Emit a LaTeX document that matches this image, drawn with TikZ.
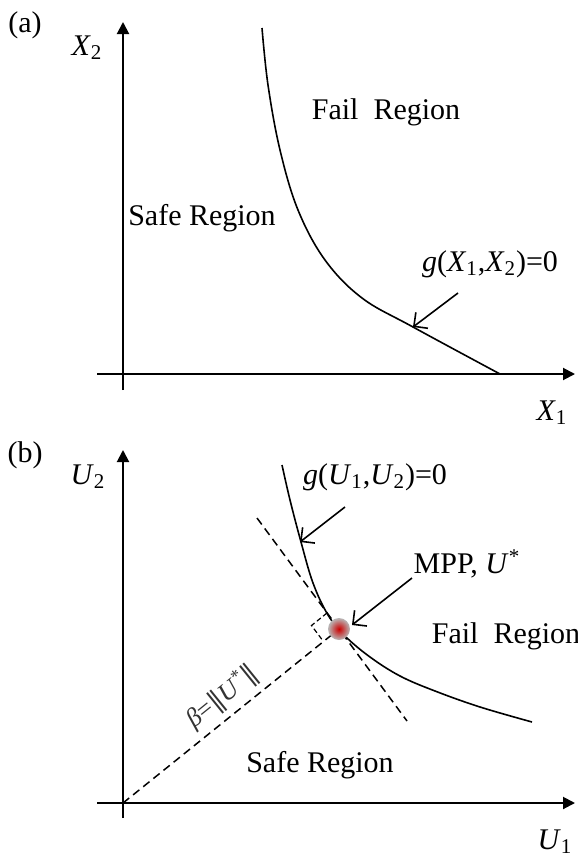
\documentclass[tikz,border=0pt]{standalone}
\usepackage{fontspec}
\setmainfont{Liberation Serif}
\newfontfamily\simbolo{DejaVu Serif}
\usetikzlibrary{arrows.meta}
\tikzset{
  eixo/.style={line width=1pt, -{Triangle[length=6pt,width=6pt]}},
  curva/.style={line width=0.8pt},
  tracejado/.style={line width=0.75pt, dash pattern=on 4pt off 2.5pt},
  seta/.style={line width=0.8pt, -{Straight Barb[length=5pt,width=10pt]}},
  rotulo/.style={font=\fontsize{15}{18}\selectfont, inner sep=0pt},
}
\newcommand{\vi}[1]{\textit{#1}}
\newcommand{\dbar}{{\simbolo ‖}}

\begin{document}
\begin{tikzpicture}[x=0.5pt, y=-0.5pt]
\useasboundingbox (0,0) rectangle (578,857);

% (a) espaco original X
\coordinate (ya0) at (123,390);
\coordinate (ya1) at (123,22);
\coordinate (xa0) at (97,374);
\coordinate (xa1) at (575,374);
\draw[eixo] (ya0) -- (ya1);
\draw[eixo] (xa0) -- (xa1);
\node[rotulo] (lba) at (25,25) {(a)};
\node[rotulo] (x2lab) at (87,48) {\vi{X}\textsubscript{2}};
\node[rotulo] (x1lab) at (552,413) {\vi{X}\textsubscript{1}};
\draw[curva] plot[smooth, tension=0.6] coordinates {(262,28) (268,85) (280,150) (298,210) (325,260) (362,298) (413,327) (500,374)};
\coordinate (ga) at (413,327);
\coordinate (gaseta) at (458,293);
\node[rotulo] (faila) at (386,112) {Fail\ \ Region};
\node[rotulo] (safea) at (202,218) {Safe Region};
\node[rotulo] (gxlab) at (490,264) {\vi{g}(\vi{X}\textsubscript{1},\vi{X}\textsubscript{2})=0};
\draw[seta] (gaseta) -- (ga);

% (b) espaco padrao U
\coordinate (ob) at (123,803);
\coordinate (yb0) at (123,818);
\coordinate (yb1) at (123,450);
\coordinate (xb0) at (97,803);
\coordinate (xb1) at (575,803);
\draw[eixo] (yb0) -- (yb1);
\draw[eixo] (xb0) -- (xb1);
\node[rotulo] (lbb) at (25,455) {(b)};
\node[rotulo] (u2lab) at (88,477) {\vi{U}\textsubscript{2}};
\node[rotulo] (u1lab) at (555,842) {\vi{U}\textsubscript{1}};
\draw[curva] plot[smooth, tension=0.6] coordinates {(282,465) (290,500) (301,542) (313,583) (328,615) (345,636) (370,657) (400,676) (435,691) (480,707) (532,722)};
\coordinate (mpp) at (339,629);
\coordinate (tg0) at (257,518);
\coordinate (tg1) at (407,721);
\draw[tracejado] (tg0) -- (tg1);
\draw[tracejado] (ob) -- (mpp) node[pos=0.52, sloped, above=3pt, rotulo, font=\fontsize{13}{15}\selectfont, text=black!80] (betalab) {\vi{β}=\dbar\vi{U}\textsuperscript{*}\dbar};
% marca de angulo reto
\coordinate (ra1) at (327,613);
\coordinate (ra2) at (311.5,625.5);
\coordinate (ra3) at (323.5,641.5);
\draw[line width=0.6pt, dash pattern=on 2.5pt off 1.5pt] (ra1) -- (ra2) -- (ra3);
\shade[inner color=red!80!black, outer color=gray!55] (mpp) circle[radius=5.5pt];
\coordinate (gb) at (300,542);
\coordinate (gbseta) at (345,507);
\coordinate (mppponta) at (352,625);
\coordinate (mppseta) at (412,578);
\node[rotulo] (gulab) at (375,477) {\vi{g}(\vi{U}\textsubscript{1},\vi{U}\textsubscript{2})=0};
\node[rotulo] (mpplab) at (467,564) {MPP, \vi{U}\textsuperscript{*}};
\node[rotulo] (failb) at (506,636) {Fail\ \ Region};
\node[rotulo] (safeb) at (320,765) {Safe Region};
\draw[seta] (gbseta) -- (gb);
\draw[seta] (mppseta) -- (mppponta);
\end{tikzpicture}
\end{document}
